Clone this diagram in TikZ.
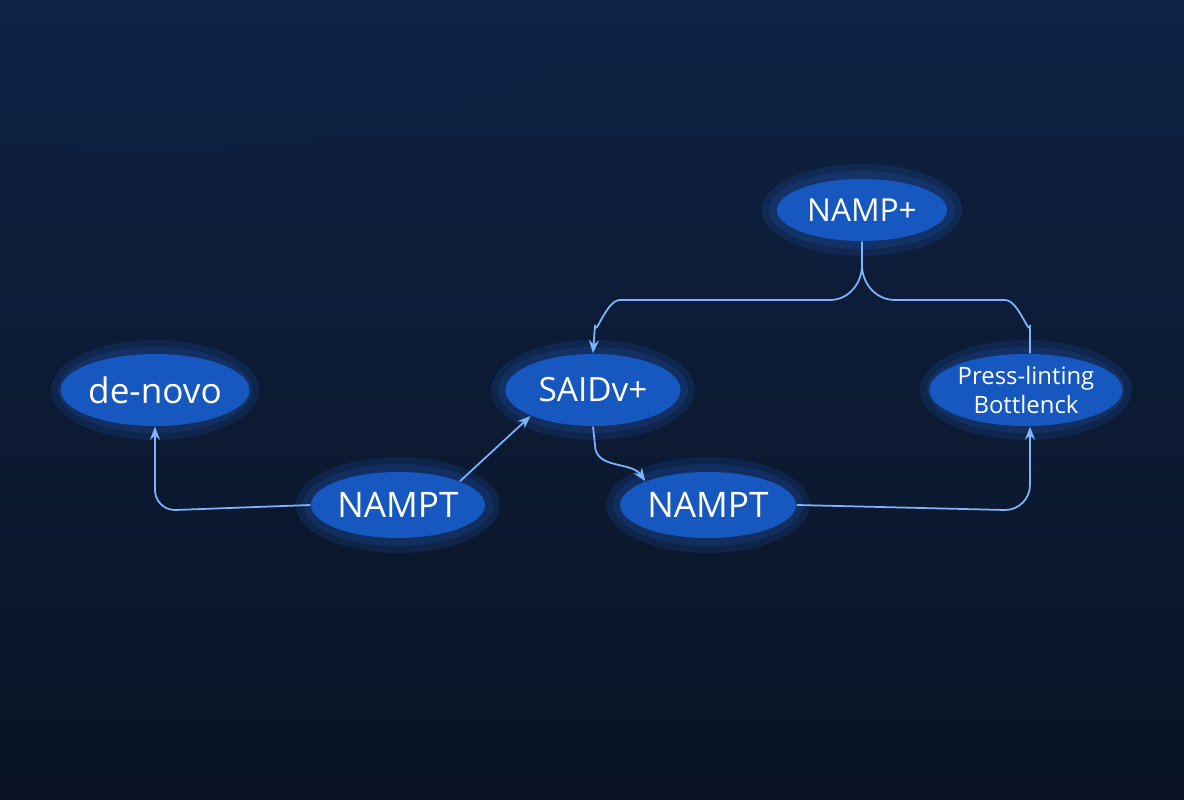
\documentclass[tikz,border=0pt]{standalone}
\usepackage{fontspec}
\setmainfont{Open Sans}
\usetikzlibrary{shapes.geometric,arrows.meta}
\definecolor{bgtop}{HTML}{0F2244}
\definecolor{bgbot}{HTML}{091324}
\definecolor{nodefill}{HTML}{1657C0}
\definecolor{glow}{HTML}{2C7BFF}
\definecolor{wire}{HTML}{7FB2FF}
\tikzset{
  bubble/.style={ellipse, fill=nodefill, text=white, inner sep=0pt,
    minimum width=#1, align=center},
  bubble/.default={1.75cm},
  link/.style={draw=wire, line width=0.5pt, -{Stealth[length=1.3mm,width=1mm]}},
  halo/.style={fill=glow, opacity=0.12}
}
\begin{document}
\begin{tikzpicture}[x=0.01cm,y=-0.01cm]
    % Hintergrund
    \useasboundingbox (0,0) rectangle (1184,800);
    \clip (0,0) rectangle (1184,800);
    \shade[top color=bgtop, bottom color=bgbot] (0,0) rectangle (1184,800);
    \fill[bgtop, opacity=0.5] (150,0) ellipse (4.5cm and 1.5cm);

    % Knoten mit Schein
    \foreach \x/\y/\w/\h in {155/390/90/36, 398/505/88/34, 593/390/88/36,
                             862/210/86/32, 1026/390/92/36, 708/505/88/34} {
        \fill[halo] (\x,\y) ellipse ({(\w+14)*0.01cm} and {(\h+14)*0.01cm});
        \fill[halo] (\x,\y) ellipse ({(\w+7)*0.01cm} and {(\h+7)*0.01cm});
    }
    \node[bubble=1.8cm, minimum height=0.72cm, font=\fontsize{10}{12}\selectfont] (denovo) at (155,390) {de-novo};
    \node[bubble=1.74cm, minimum height=0.66cm, font=\fontsize{10}{12}\selectfont] (nampta) at (398,505) {NAMPT};
    \node[bubble=1.75cm, minimum height=0.72cm, font=\fontsize{9.5}{12}\selectfont] (saidv) at (593,390) {SAIDv+};
    \node[bubble=1.7cm, minimum height=0.62cm, font=\fontsize{9}{11}\selectfont] (nampp) at (862,210) {NAMP+};
    \node[bubble=1.84cm, minimum height=0.72cm, font=\fontsize{6.8}{8}\selectfont] (press) at (1026,390) {Press-linting\\Bottlenck};
    \node[bubble=1.76cm, minimum height=0.66cm, font=\fontsize{10}{12}\selectfont] (namptb) at (708,505) {NAMPT};

    % Verbindungen
    \draw[link] (nampta.west) -- (175,510) to[out=180,in=-90] (155,490) -- (denovo.south);
    \draw[link] (nampta.north east) -- (saidv.south west);
    \draw[link] (saidv.south) -- (595,445) to[out=-90,in=125] (namptb.north west);
    \draw[link] (nampp.south) -- (862,265) to[out=-90,in=0] (830,300) -- (620,300)
        to[out=180,in=-90] (595,325) -- (saidv.north);
    \draw[draw=wire, line width=0.5pt] (862,265) to[out=-90,in=180] (895,300) -- (1005,300)
        to[out=0,in=-90] (1030,325) -- (press.north -| 1030,0);
    \draw[link] (namptb.east) -- (1005,510) to[out=0,in=-90] (1030,485) -- (press.south -| 1030,0);
\end{tikzpicture}
\end{document}
